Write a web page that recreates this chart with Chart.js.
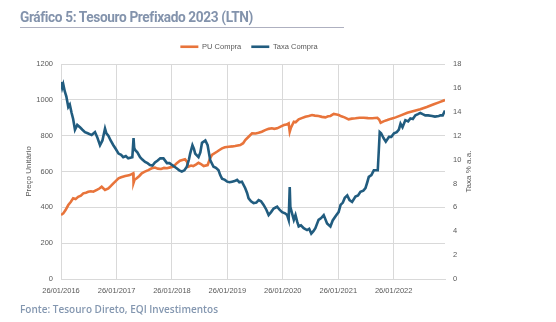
<!DOCTYPE html>
<html><head><meta charset="utf-8">
<script src="https://cdn.jsdelivr.net/npm/chart.js@4.4.1/dist/chart.umd.min.js"></script>
<style>
html,body{margin:0;padding:0;background:#fff;}
#wrap{position:relative;width:556px;height:322px;overflow:hidden;background:#fff;}
canvas{position:absolute;left:0;top:0;}
#title{position:absolute;left:20px;top:9px;font:bold 14.5px Roboto, sans-serif;color:#8393AC;white-space:nowrap;transform-origin:0 0;letter-spacing:-0.4px;}
#rule{position:absolute;left:20px;top:27px;width:324px;height:0;border-top:1px solid #AEB0C0;}
#source{position:absolute;left:20px;top:301px;font:600 11px "Open Sans", sans-serif;color:#8497B0;white-space:nowrap;transform-origin:0 0;}
</style></head>
<body><div id="wrap">
<canvas id="c" width="556" height="322"></canvas>
<div id="title">Gráfico 5: Tesouro Prefixado 2023 (LTN)</div>
<div id="rule"></div>
<div id="source">Fonte: Tesouro Direto, EQI Investimentos</div>
</div>
<script>
// ---- data ----
const xTickLabels = ["26/01/2016","26/01/2017","26/01/2018","26/01/2019","26/01/2020","26/01/2021","26/01/2022"];
const xEndDate = "2022-12-30";
const seriesNames = ["PU Compra","Taxa Compra"];
const leftTitle = "Preço Unitário";
const rightTitle = "Taxa % a.a.";

const puDates = ["2016-01-26","2016-02-10","2016-02-25","2016-03-14","2016-03-30","2016-04-15","2016-05-01","2016-05-18","2016-06-05","2016-06-21","2016-07-08","2016-07-24","2016-08-10","2016-08-26","2016-09-18","2016-10-05","2016-10-20","2016-11-11","2016-12-03","2016-12-20","2017-01-05","2017-01-22","2017-02-08","2017-02-25","2017-03-24","2017-04-10","2017-04-23","2017-05-16","2017-05-18","2017-05-25","2017-06-08","2017-06-25","2017-07-11","2017-07-28","2017-08-23","2017-09-15","2017-10-06","2017-10-25","2017-11-15","2017-12-05","2017-12-24","2018-01-15","2018-02-05","2018-02-25","2018-03-20","2018-04-22","2018-05-05","2018-05-14","2018-06-01","2018-06-15","2018-07-05","2018-07-20","2018-08-05","2018-08-23","2018-09-18","2018-10-05","2018-10-16","2018-11-18","2018-12-05","2018-12-22","2019-01-10","2019-02-04","2019-03-01","2019-03-18","2019-04-21","2019-05-10","2019-05-24","2019-06-10","2019-06-20","2019-07-08","2019-08-01","2019-08-20","2019-09-10","2019-10-02","2019-10-25","2019-11-15","2019-12-01","2019-12-20","2020-01-15","2020-02-03","2020-02-20","2020-03-05","2020-03-12","2020-03-20","2020-04-08","2020-04-20","2020-05-10","2020-05-30","2020-06-23","2020-07-15","2020-08-06","2020-08-25","2020-09-18","2020-10-10","2020-11-02","2020-11-20","2020-12-05","2020-12-27","2021-01-15","2021-01-29","2021-02-15","2021-03-08","2021-04-04","2021-04-25","2021-05-19","2021-06-15","2021-07-13","2021-08-10","2021-09-07","2021-10-10","2021-10-22","2021-11-01","2021-11-20","2021-12-15","2022-01-10","2022-02-08","2022-03-10","2022-04-26","2022-06-01","2022-07-20","2022-09-01","2022-10-17","2022-11-20","2022-12-30"];
const puValues = [357,366,385,413,430,450,446,459,465,478,482,487,490,487,497,505,515,497,506,520,534,548,562,568,575,578,580,590,537,555,562,575,590,598,608,618,622,616,614,620,618,623,627,645,660,668,655,627,633,630,640,649,642,630,636,675,692,710,720,729,735,738,740,742,748,758,776,790,798,813,812,816,822,831,838,841,838,841,852,859,862,869,822,845,878,875,891,898,906,910,915,912,910,905,902,908,910,921,918,915,908,902,891,895,897,900,900,898,897,900,890,872,880,887,895,902,912,928,936,947,960,975,986,999];

const taxaDates = ["2016-01-26","2016-02-03","2016-02-10","2016-02-20","2016-03-01","2016-03-14","2016-03-24","2016-04-05","2016-04-15","2016-04-27","2016-05-12","2016-05-30","2016-06-15","2016-07-02","2016-07-20","2016-08-15","2016-09-06","2016-09-20","2016-10-09","2016-10-25","2016-11-11","2016-11-20","2016-12-03","2016-12-18","2017-01-05","2017-01-20","2017-02-08","2017-02-25","2017-03-11","2017-03-28","2017-04-13","2017-05-10","2017-05-18","2017-05-22","2017-05-28","2017-06-12","2017-06-30","2017-07-15","2017-08-02","2017-08-18","2017-09-03","2017-09-20","2017-10-06","2017-10-22","2017-11-10","2017-12-01","2017-12-24","2018-01-10","2018-01-26","2018-02-12","2018-02-28","2018-03-15","2018-04-01","2018-04-18","2018-05-04","2018-05-18","2018-05-26","2018-06-10","2018-06-20","2018-06-28","2018-07-20","2018-08-01","2018-08-12","2018-09-03","2018-09-18","2018-10-05","2018-10-27","2018-11-12","2018-11-29","2018-12-10","2018-12-22","2019-01-10","2019-01-25","2019-02-10","2019-02-26","2019-03-15","2019-03-31","2019-04-15","2019-05-02","2019-05-24","2019-06-05","2019-06-15","2019-07-01","2019-07-18","2019-08-05","2019-08-20","2019-09-05","2019-09-22","2019-10-10","2019-10-25","2019-11-10","2019-11-27","2019-12-20","2020-01-05","2020-01-22","2020-02-10","2020-02-24","2020-03-05","2020-03-12","2020-03-16","2020-03-25","2020-04-08","2020-04-19","2020-04-30","2020-05-10","2020-05-25","2020-06-12","2020-07-04","2020-07-18","2020-08-01","2020-08-15","2020-08-28","2020-09-18","2020-10-05","2020-10-22","2020-11-13","2020-12-05","2020-12-20","2021-01-10","2021-01-28","2021-02-10","2021-02-25","2021-03-10","2021-03-26","2021-04-10","2021-04-27","2021-05-19","2021-06-05","2021-06-21","2021-07-10","2021-07-24","2021-08-05","2021-08-15","2021-09-01","2021-09-17","2021-10-13","2021-10-20","2021-10-26","2021-11-04","2021-11-20","2021-12-05","2021-12-26","2022-01-10","2022-01-28","2022-02-15","2022-03-01","2022-03-12","2022-03-25","2022-04-13","2022-05-01","2022-05-16","2022-06-01","2022-06-18","2022-07-05","2022-07-20","2022-08-05","2022-08-22","2022-09-10","2022-10-06","2022-10-25","2022-11-19","2022-11-30","2022-12-15","2022-12-30"];
const taxaValues = [16.5,16.0,16.3,15.7,15.3,14.4,14.6,13.9,13.4,12.5,12.9,12.7,12.5,12.3,12.2,12.05,12.3,11.9,11.2,11.6,12.6,12.2,12.0,11.6,11.2,10.9,10.5,10.4,10.2,10.3,10.1,10.2,11.8,11.0,10.8,10.6,10.2,10.0,9.8,9.7,9.55,9.5,9.75,9.9,10.1,10.1,9.7,9.7,9.55,9.4,9.25,9.1,9.0,9.1,9.4,10.0,10.5,11.2,10.9,10.5,10.2,10.6,11.4,11.6,11.2,9.95,9.4,9.3,9.1,8.7,8.4,8.3,8.15,8.1,8.15,8.2,8.3,8.1,8.15,7.6,7.2,6.75,6.5,6.35,6.4,6.6,6.5,6.2,5.8,5.35,5.6,5.9,6.05,5.8,5.6,5.5,5.35,4.95,7.7,6.05,5.6,4.95,5.35,4.8,4.4,4.5,4.25,4.1,4.2,3.8,4.0,4.25,4.95,5.1,5.35,4.65,4.4,4.9,5.3,5.6,6.2,6.4,6.8,7.0,6.6,6.45,6.9,7.0,7.3,7.4,7.6,8.1,8.55,8.7,9.1,9.1,10.8,12.3,12.2,11.8,11.5,11.9,11.9,12.2,12.3,12.5,13.0,12.7,13.3,13.2,13.45,13.4,13.7,13.8,13.9,13.8,13.7,13.7,13.65,13.6,13.65,13.7,13.7,14.1];

// ---- helpers ----
const T0 = Date.UTC(2016,0,26);
function dayIso(s){const [y,m,d]=s.split('-').map(Number);return (Date.UTC(y,m-1,d)-T0)/86400000;}
function dayBr(s){const [d,m,y]=s.split('/').map(Number);return (Date.UTC(y,m-1,d)-T0)/86400000;}
const tickDays = xTickLabels.map(dayBr);
const puPoints = puDates.map((d,i)=>({x:dayIso(d),y:puValues[i]}));
const taxaPoints = taxaDates.map((d,i)=>({x:dayIso(d),y:taxaValues[i]}));

const GRID = '#D9D9D9';
const TXT = '#595959';
const tickFont = {family:'"Liberation Sans", Arial, sans-serif', size:7.5};

const fixLegend = {
  id:'fixLegend',
  beforeLayout(chart){
    const lg = chart.legend;
    if (lg && !lg._patched){
      const f = lg.fit;
      lg.fit = function(){ f.call(this); this.height = 31; };
      lg._patched = true;
    }
  },
  afterDraw(chart){
    const s = chart.scales.y1, ca = chart.chartArea, ctx = chart.ctx;
    ctx.save();
    ctx.font = '8px "Liberation Sans", Arial, sans-serif';
    ctx.fillStyle = TXT; ctx.textAlign='center'; ctx.textBaseline='middle';
    ctx.translate(s.right - 9, (ca.top+ca.bottom)/2);
    ctx.rotate(-Math.PI/2);
    ctx.fillText(rightTitle, 0, 0);
    ctx.restore();
  }
};

new Chart(document.getElementById('c'), {
  type:'line',
  data:{datasets:[
    {label:seriesNames[0], data:puPoints, yAxisID:'y', borderColor:'#E8743B', backgroundColor:'#E8743B', borderWidth:2.6, pointRadius:0, tension:0, order:1},
    {label:seriesNames[1], data:taxaPoints, yAxisID:'y1', borderColor:'#215C7F', backgroundColor:'#215C7F', borderWidth:2.6, pointRadius:0, tension:0, order:0}
  ]},
  options:{
    responsive:false, animation:false, devicePixelRatio:1,
    layout:{padding:{left:20,right:78,top:33,bottom:23}},
    plugins:{
      legend:{display:true, position:'top',
        labels:{usePointStyle:true, pointStyle:'line', pointStyleWidth:18, padding:10, color:TXT, font:tickFont,
          sort:(a,b)=>a.datasetIndex-b.datasetIndex}},
      tooltip:{enabled:false}, title:{display:false}
    },
    scales:{
      x:{type:'linear', min:0, max:dayIso(xEndDate),
        afterBuildTicks:s=>{s.ticks = tickDays.map(v=>({value:v}));},
        ticks:{autoSkip:false, maxRotation:0, padding:7, color:TXT, font:tickFont,
          callback:v=>{const i=tickDays.indexOf(v);return i>=0?xTickLabels[i]:'';}},
        grid:{color:GRID, drawTicks:false, lineWidth:1},
        border:{color:GRID},
        afterFit:s=>{s.height=20;}
      },
      y:{position:'left', min:0, max:1200,
        ticks:{stepSize:200, padding:8, color:TXT, font:tickFont, callback:v=>String(v)},
        grid:{color:GRID, drawTicks:false},
        border:{display:true, color:GRID},
        title:{display:true, text:leftTitle, color:TXT, font:{family:'"Liberation Sans", Arial, sans-serif', size:8}, padding:{top:4,bottom:4}},
        afterFit:s=>{s.width=41;}
      },
      y1:{position:'right', min:0, max:18,
        ticks:{stepSize:2, padding:8, color:TXT, font:tickFont, callback:v=>String(v)},
        grid:{display:false, drawTicks:false},
        border:{display:false},
        afterFit:s=>{s.width=33;}
      }
    }
  },
  plugins:[fixLegend]
});

function fitWidth(id,w){const el=document.getElementById(id);const r=el.getBoundingClientRect().width;el.style.transform='scaleX('+(w/r)+')';}
fitWidth('title',233);
fitWidth('source',198);
</script>
</body></html>
